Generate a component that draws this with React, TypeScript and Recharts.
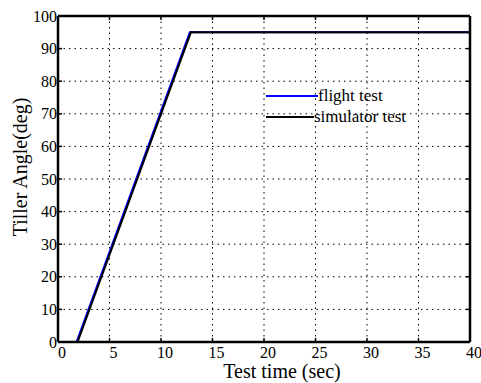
import React from 'react';
import { CartesianGrid, Label, Line, LineChart, XAxis, YAxis } from 'recharts';

// test time (sec) vs tiller angle (deg)
const flightTime = [0, 1.8, 12.8, 40];
const flightAngle = [0, 0, 95, 95];
const simTime = [0, 1.9, 12.9, 40];
const simAngle = [0, 0, 95, 95];

const xTicks = [0, 5, 10, 15, 20, 25, 30, 35, 40];
const yTicks = [0, 10, 20, 30, 40, 50, 60, 70, 80, 90, 100];

const flightData = flightTime.map((t, i) => ({ t, angle: flightAngle[i] }));
const simData = simTime.map((t, i) => ({ t, angle: simAngle[i] }));

const font = '"Liberation Serif", "DejaVu Serif", serif';
const frame = { stroke: '#000', strokeWidth: 2.5 };
const tickMark = { stroke: '#000', strokeWidth: 1.5 };

const legendItems = [
  { label: 'flight test', color: '#0000ff', lineWidth: 52 },
  { label: 'simulator test', color: '#000000', lineWidth: 48 },
];

function LegendBox() {
  return (
    <div style={{ position: 'absolute', left: 266, top: 85, fontFamily: font, fontSize: 17, lineHeight: '21px' }}>
      {legendItems.map((item) => (
        <div key={item.label} style={{ display: 'flex', alignItems: 'center', whiteSpace: 'nowrap' }}>
          <span style={{ display: 'inline-block', width: item.lineWidth, height: 2, background: item.color }} />
          <span style={{ color: '#000' }}>{item.label}</span>
        </div>
      ))}
    </div>
  );
}

// serif tick labels
const XTick = ({ x, y, payload }: any) => (
  <text x={x + 4} y={y} dy="0.71em" textAnchor="middle" fill="#000" fontSize={16} fontFamily={font}>
    {payload.value}
  </text>
);

const YTick = ({ x, y, payload }: any) => (
  <text x={x} y={y} dy="0.355em" textAnchor="end" fill="#000" fontSize={16} fontFamily={font}>
    {payload.value}
  </text>
);

const YTitle = () => (
  <text x={20} y={167} transform="rotate(-90 20 167)" textAnchor="middle" dominantBaseline="central"
    fill="#000" fontSize={20} fontFamily={font}>
    Tiller Angle(deg)
  </text>
);

export default function App() {
  return (
    <div style={{ position: 'absolute', left: 0, top: 0, width: 481, height: 383, background: '#fff', fontFamily: font }}>
      <LineChart width={481} height={383} margin={{ top: 0, right: 0, left: 18, bottom: 1 }}>
        <CartesianGrid stroke="#000" strokeDasharray="1.5 4" strokeWidth={1} />
        <XAxis
          dataKey="t"
          type="number"
          domain={[0, 40]}
          ticks={xTicks}
          allowDuplicatedCategory={false}
          height={40}
          tickSize={-4}
          tickLine={tickMark}
          axisLine={frame}
          tick={<XTick />}
          tickMargin={9}
        >
          <Label value="Test time (sec)" position="insideBottom" offset={4} dx={18} style={{ fill: '#000', fontSize: 20, fontFamily: font }} />
        </XAxis>
        <XAxis
          xAxisId="top"
          orientation="top"
          dataKey="t"
          type="number"
          domain={[0, 40]}
          ticks={xTicks}
          allowDuplicatedCategory={false}
          height={16}
          tickSize={-4}
          tickLine={tickMark}
          axisLine={frame}
          tickFormatter={() => ''}
        />
        <YAxis
          dataKey="angle"
          type="number"
          domain={[0, 100]}
          ticks={yTicks}
          width={40}
          tickSize={-4}
          tickLine={tickMark}
          axisLine={frame}
          tick={<YTick />}
          tickMargin={5}
        >
          <Label content={YTitle} />
        </YAxis>
        <YAxis
          yAxisId="right"
          orientation="right"
          dataKey="angle"
          type="number"
          domain={[0, 100]}
          ticks={yTicks}
          width={11}
          tickSize={-4}
          tickLine={tickMark}
          axisLine={frame}
          tickFormatter={() => ''}
        />
        <Line
          data={flightData}
          dataKey="angle"
          name="flight test"
          type="linear"
          stroke="#0000ff"
          strokeWidth={2}
          dot={false}
          isAnimationActive={false}
        />
        <Line
          data={simData}
          dataKey="angle"
          name="simulator test"
          xAxisId="top"
          yAxisId="right"
          type="linear"
          stroke="#000"
          strokeWidth={2}
          dot={false}
          isAnimationActive={false}
        />
      </LineChart>
      <LegendBox />
    </div>
  );
}
